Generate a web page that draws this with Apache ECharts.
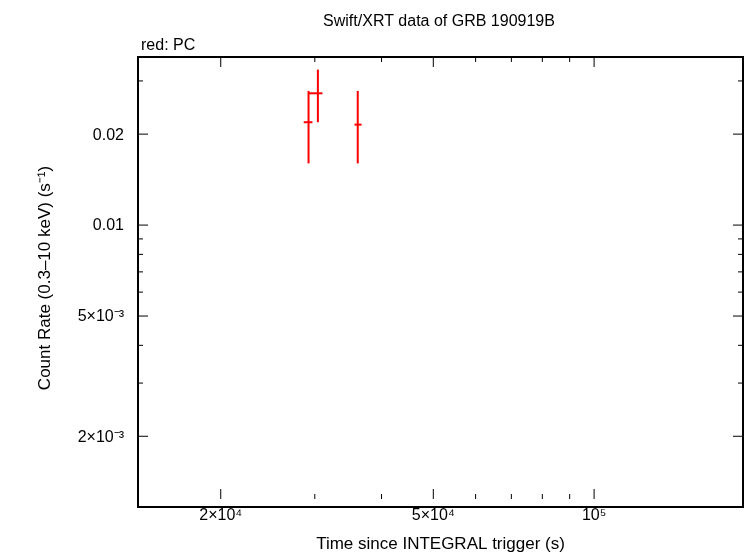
<!DOCTYPE html>
<html>
<head>
<meta charset="utf-8">
<script src="https://cdn.jsdelivr.net/npm/echarts@6/dist/echarts.min.js"></script>
<style>body{margin:0}#main{width:746px;height:558px}</style>
</head>
<body>
<div id="main"></div>
<script>
// PC points: [t, tLo, tHi, rate, rateLo, rateHi]
var pcPoints = [
  [2.92e4, 2.86e4, 2.97e4, 0.0219, 0.0160, 0.0278],
  [3.04e4, 2.92e4, 3.10e4, 0.0273, 0.0219, 0.0327],
  [3.61e4, 3.56e4, 3.67e4, 0.0215, 0.0160, 0.0278]
];
var xTicks = [2e4, 3e4, 4e4, 5e4, 6e4, 7e4, 8e4, 9e4, 1e5];
var xLabels = {20000: '2×10⁴', 50000: '5×10⁴', 100000: '10⁵'};
var yTicks = [2e-3, 3e-3, 4e-3, 5e-3, 6e-3, 7e-3, 8e-3, 9e-3, 0.01, 0.02, 0.03];
var yLabels = {0.002: '2×10⁻³', 0.005: '5×10⁻³', 0.01: '0.01', 0.02: '0.02'};
var xMin = 1.4e4, xMax = 1.9e5, yMin = 1.24e-3, yMax = 0.036;

var font = 'Liberation Sans, Arial, sans-serif';
var chart = echarts.init(document.getElementById('main'));

function xTickItem(params, api) {
  var v = xTicks[params.dataIndex];
  var cs = params.coordSys;
  var x = api.coord([v, yMin])[0];
  var major = xLabels[v] !== undefined;
  var len = major ? 10 : 5;
  var st = {stroke: '#000', lineWidth: 1};
  var kids = [
    {type: 'line', shape: {x1: x, y1: cs.y + cs.height, x2: x, y2: cs.y + cs.height - len}, style: st},
    {type: 'line', shape: {x1: x, y1: cs.y, x2: x, y2: cs.y + len}, style: st}
  ];
  if (major) kids.push({type: 'text', x: x, y: cs.y + cs.height + 9,
    style: {text: xLabels[v], fill: '#000', font: '16px ' + font, align: 'center', verticalAlign: 'top'}});
  return {type: 'group', children: kids};
}
function yTickItem(params, api) {
  var v = yTicks[params.dataIndex];
  var cs = params.coordSys;
  var y = api.coord([xMin, v])[1];
  var major = yLabels[v] !== undefined;
  var len = major ? 10 : 5;
  var st = {stroke: '#000', lineWidth: 1};
  var kids = [
    {type: 'line', shape: {x1: cs.x, y1: y, x2: cs.x + len, y2: y}, style: st},
    {type: 'line', shape: {x1: cs.x + cs.width, y1: y, x2: cs.x + cs.width - len, y2: y}, style: st}
  ];
  if (major) kids.push({type: 'text', x: cs.x - 14, y: y + 1,
    style: {text: yLabels[v], fill: '#000', font: '16px ' + font, align: 'right', verticalAlign: 'middle'}});
  return {type: 'group', children: kids};
}
function errItem(params, api) {
  var c = api.coord([api.value(0), api.value(3)]);
  var l = api.coord([api.value(1), api.value(3)]);
  var r = api.coord([api.value(2), api.value(3)]);
  var lo = api.coord([api.value(0), api.value(4)]);
  var hi = api.coord([api.value(0), api.value(5)]);
  var st = {stroke: '#ff0000', lineWidth: 2};
  return {type: 'group', children: [
    {type: 'line', shape: {x1: l[0], y1: c[1], x2: r[0], y2: c[1]}, style: st},
    {type: 'line', shape: {x1: c[0], y1: lo[1], x2: c[0], y2: hi[1]}, style: st}
  ]};
}

chart.setOption({
  animation: false,
  title: [
    {text: 'Swift/XRT data of GRB 190919B', left: 434, top: 9, textAlign: 'center',
     textStyle: {fontSize: 16, fontWeight: 'normal', fontFamily: font, color: '#000'}},
    {text: 'red: PC', left: 136, top: 33,
     textStyle: {fontSize: 16, fontWeight: 'normal', fontFamily: font, color: '#000'}}
  ],
  grid: {left: 138, right: 3, top: 57, bottom: 51},
  xAxis: {type: 'log', min: xMin, max: xMax,
    name: 'Time since INTEGRAL trigger (s)', nameLocation: 'middle', nameGap: 37,
    nameTextStyle: {fontSize: 17, fontFamily: font, color: '#000'},
    axisLine: {show: false}, axisTick: {show: false},
    axisLabel: {show: false}, splitLine: {show: false}},
  yAxis: {type: 'log', min: yMin, max: yMax,
    name: 'Count Rate (0.3–10 keV) (s⁻¹)', nameLocation: 'middle', nameGap: 84,
    nameTextStyle: {fontSize: 17, fontFamily: font, color: '#000'},
    axisLine: {show: false}, axisTick: {show: false},
    axisLabel: {show: false}, splitLine: {show: false}},
  graphic: [{type: 'rect', shape: {x: 138, y: 57, width: 605, height: 450},
    style: {fill: 'none', stroke: '#000', lineWidth: 2}, silent: true}],
  series: [
    {type: 'custom', renderItem: xTickItem, clip: false, silent: true,
     data: xTicks.map(function (v) { return [v, yMin]; })},
    {type: 'custom', renderItem: yTickItem, clip: false, silent: true,
     data: yTicks.map(function (v) { return [xMin, v]; })},
    {type: 'custom', renderItem: errItem, encode: {x: 0, y: 3}, data: pcPoints}
  ]
});
</script>
</body>
</html>
